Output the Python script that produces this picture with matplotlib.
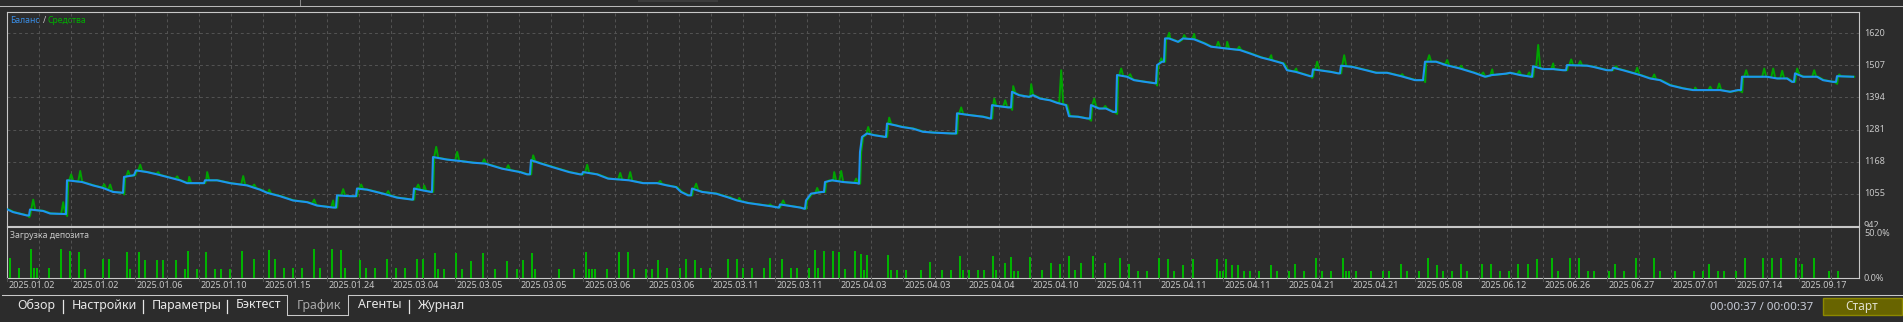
import numpy as np
import matplotlib
matplotlib.use("Agg")
import matplotlib.pyplot as plt
from matplotlib.lines import Line2D
from matplotlib.patches import Rectangle
from matplotlib.transforms import Bbox

plt.rcParams['font.family'] = ['Noto Sans', 'DejaVu Sans']

# ---------------- data ----------------
# balance curve vertices: deal index, balance
bal_x = [0, 6, 20, 22, 23, 36, 43, 58, 59, 60,
         75, 86, 96, 106, 115, 116, 117, 127, 129, 140,
         150, 160, 173, 180, 193, 197, 198, 210, 223, 240,
         253, 260, 273, 286, 300, 310, 326, 329, 330, 343,
         349, 350, 360, 376, 390, 405, 406, 407, 415, 424,
         425, 426, 440, 453, 466, 478, 495, 513, 520, 523,
         524, 534, 545, 562, 573, 575, 576, 590, 601, 622,
         636, 650, 660, 669, 674, 681, 684, 685, 695, 709,
         720, 730, 741, 751, 765, 771, 772, 773, 786, 793,
         797, 798, 799, 804, 815, 817, 818, 825, 836, 850,
         852, 853, 855, 860, 867, 878, 879, 880, 888, 895,
         906, 916, 927, 945, 949, 950, 962, 976, 983, 984,
         985, 990, 1001, 1004, 1005, 1012, 1022, 1026, 1033, 1043,
         1050, 1059, 1062, 1071, 1080, 1083, 1084, 1092, 1099, 1106,
         1109, 1110, 1120, 1127, 1138, 1148, 1149, 1150, 1155, 1157,
         1158, 1162, 1171, 1176, 1187, 1197, 1204, 1218, 1233, 1243,
         1254, 1264, 1276, 1280, 1289, 1303, 1305, 1306, 1324, 1331,
         1333, 1334, 1345, 1359, 1369, 1380, 1394, 1408, 1416, 1418,
         1429, 1439, 1453, 1467, 1478, 1485, 1499, 1503, 1513, 1524,
         1525, 1526, 1536, 1546, 1556, 1559, 1560, 1580, 1586, 1593,
         1600, 1605, 1606, 1616, 1633, 1643, 1653, 1663, 1676, 1686,
         1713, 1723, 1731, 1734, 1735, 1760, 1770, 1780, 1785, 1787,
         1788, 1796, 1810, 1816, 1826, 1829, 1830, 1846]
bal_v = [1000, 990, 978, 978, 999, 994, 985, 983, 983, 1102,
         1096, 1084, 1075, 1061, 1058, 1058, 1114, 1120, 1137, 1131,
         1123, 1114, 1102, 1092, 1092, 1092, 1102, 1102, 1092, 1084,
         1069, 1058, 1046, 1031, 1025, 1013, 1006, 1006, 1049, 1046,
         1046, 1073, 1069, 1055, 1041, 1034, 1034, 1073, 1067, 1061,
         1061, 1184, 1175, 1170, 1164, 1161, 1143, 1131, 1123, 1123,
         1173, 1161, 1149, 1131, 1123, 1123, 1131, 1123, 1108, 1102,
         1092, 1092, 1084, 1078, 1061, 1049, 1049, 1073, 1061, 1055,
         1043, 1031, 1022, 1017, 1010, 1006, 1006, 1017, 1010, 1006,
         1002, 1002, 1031, 1055, 1061, 1061, 1096, 1102, 1096, 1092,
         1090, 1202, 1255, 1267, 1261, 1255, 1255, 1302, 1296, 1290,
         1284, 1273, 1270, 1267, 1267, 1338, 1332, 1326, 1320, 1320,
         1367, 1364, 1359, 1359, 1414, 1402, 1396, 1402, 1390, 1384,
         1375, 1367, 1328, 1326, 1320, 1320, 1367, 1355, 1355, 1343,
         1343, 1473, 1467, 1455, 1449, 1444, 1444, 1508, 1520, 1520,
         1602, 1602, 1590, 1602, 1599, 1585, 1573, 1567, 1561, 1549,
         1535, 1526, 1514, 1490, 1484, 1469, 1469, 1493, 1484, 1479,
         1479, 1506, 1502, 1490, 1481, 1481, 1469, 1455, 1455, 1520,
         1520, 1508, 1496, 1481, 1467, 1473, 1478, 1481, 1473, 1467,
         1467, 1504, 1494, 1494, 1490, 1490, 1508, 1506, 1502, 1496,
         1490, 1490, 1499, 1490, 1473, 1461, 1455, 1437, 1426, 1420,
         1420, 1414, 1420, 1420, 1467, 1467, 1461, 1461, 1449, 1449,
         1479, 1467, 1467, 1455, 1449, 1449, 1469, 1467]

# equity peaks above balance: deal index, equity
eq_x = [25, 55, 63, 72, 96, 102, 120, 132, 150, 169,
        181, 199, 235, 246, 261, 306, 325, 335, 353, 380,
        410, 416, 428, 449, 476, 500, 525, 579, 612, 622,
        652, 688, 722, 731, 762, 775, 809, 821, 826, 833,
        848, 860, 881, 953, 986, 997, 1005, 1023, 1053, 1086,
        1097, 1113, 1122, 1153, 1161, 1176, 1186, 1210, 1219, 1231,
        1263, 1288, 1309, 1336, 1394, 1421, 1439, 1453, 1475, 1484,
        1511, 1521, 1530, 1545, 1563, 1572, 1608, 1629, 1646, 1687,
        1702, 1711, 1738, 1756, 1765, 1774, 1789, 1806, 1831]
eq_v = [1034, 1025, 1123, 1135, 1088, 1087, 1135, 1157, 1131, 1116,
        1114, 1131, 1117, 1087, 1069, 1034, 1031, 1071, 1087, 1064,
        1087, 1084, 1220, 1202, 1176, 1155, 1190, 1157, 1128, 1131,
        1100, 1090, 1043, 1040, 1017, 1031, 1075, 1102, 1131, 1135,
        1108, 1290, 1323, 1359, 1390, 1384, 1434, 1441, 1490, 1390,
        1364, 1496, 1476, 1532, 1622, 1614, 1618, 1590, 1590, 1573,
        1543, 1496, 1520, 1543, 1476, 1543, 1526, 1506, 1482, 1493,
        1487, 1482, 1579, 1514, 1528, 1522, 1504, 1499, 1475, 1429,
        1432, 1443, 1490, 1496, 1496, 1488, 1496, 1490, 1475]
# equity dips below balance (just before jumps)
dip_x = [21, 59, 116, 1004, 1083, 1109, 1149, 1304, 1417, 1734, 1829]
dip_v = [972, 976, 1052, 1350, 1312, 1336, 1436, 1463, 1448, 1412, 1442]

# deposit load bars: deal index, percent
load_x = [3, 12, 24, 27, 30, 42, 54, 63, 72, 78,
          96, 102, 120, 123, 132, 138, 150, 156, 169, 178,
          181, 190, 199, 208, 214, 223, 235, 247, 262, 268,
          277, 286, 295, 307, 313, 325, 334, 338, 353, 359,
          368, 380, 389, 398, 410, 416, 428, 431, 437, 449,
          455, 464,
          476, 488, 500, 510, 516, 525, 528, 552, 567, 579,
          582, 585, 588, 600, 612, 621, 627, 639, 645, 651,
          660, 673, 679, 688, 694, 703, 721, 730, 736, 745,
          757, 763, 775, 784, 790, 802, 808, 811, 817, 826,
          832, 838, 848, 854, 857, 860, 881, 884, 890, 899,
          914, 923, 935,
          944, 953, 956, 962, 971, 977, 986, 989, 998, 1004,
          1007, 1011, 1023, 1035, 1044, 1053, 1062, 1068, 1074, 1086,
          1098, 1113, 1122, 1131, 1140, 1152, 1161, 1167, 1176, 1186,
          1210, 1213, 1216, 1219, 1225, 1231, 1237, 1243, 1252, 1264,
          1270, 1282, 1288, 1297, 1309, 1315, 1324, 1336, 1339, 1342,
          1349, 1364, 1376, 1382, 1394, 1400,
          1412, 1421, 1430, 1436, 1445, 1454, 1460, 1475, 1484, 1493,
          1502, 1511, 1521, 1530, 1545, 1551, 1563, 1572, 1581, 1587,
          1602, 1608, 1617, 1629, 1647, 1653, 1668, 1687, 1696, 1702,
          1711, 1717, 1729, 1738, 1756, 1765, 1774, 1789, 1795, 1807,
          1822, 1831]
load_v = [22.9, 11.5, 32.6, 11.5, 11.5, 11.5, 32.6, 30.4, 29.3, 10.4,
          21.5, 21.5, 29.3, 10.4, 29.3, 20.4, 20.4, 20.4, 20.4, 10.4,
          30.4, 10.4, 29.3, 10.4, 10.4, 10.4, 30.4, 21.5, 31.5, 21.5,
          11.5, 11.5, 11.5, 32.6, 11.5, 32.6, 31.5, 11.5, 20.4, 11.5,
          11.5, 21.5, 11.5, 11.5, 21.5, 21.5, 28.1, 10.4, 10.4, 28.1,
          10.4, 19.3,
          28.1, 10.4, 19.3, 10.4, 20.4, 28.1, 10.4, 10.4, 10.4, 29.3,
          10.4, 10.4, 10.4, 10.4, 29.3, 29.3, 10.4, 10.4, 10.4, 20.4,
          11.5, 11.5, 21.5, 20.4, 11.5, 11.5, 21.5, 21.5, 11.5, 11.5,
          11.5, 22.6, 21.5, 11.5, 11.5, 11.5, 31.5, 11.5, 30.4, 30.4,
          29.3, 10.4, 30.4, 27.0, 9.3, 25.9, 25.9, 9.3, 9.3, 9.3,
          9.3, 18.1, 9.3,
          9.3, 24.8, 9.3, 9.3, 9.3, 9.3, 24.8, 9.3, 17.0, 23.7,
          8.1, 8.1, 23.7, 9.3, 17.0, 15.9, 24.8, 9.3, 17.0, 24.8,
          17.0, 22.6, 15.9, 8.1, 8.1, 22.6, 21.5, 8.1, 14.8, 21.5,
          21.5, 8.1, 8.1, 21.5, 14.8, 14.8, 8.1, 8.1, 8.1, 14.8,
          8.1, 8.1, 15.9, 8.1, 22.6, 8.1, 8.1, 22.6, 8.1, 8.1,
          8.1, 8.1, 8.1, 8.1, 15.9, 8.1,
          8.1, 22.6, 14.8, 8.1, 8.1, 15.9, 8.1, 15.9, 15.9, 8.1,
          8.1, 15.9, 15.9, 21.5, 22.6, 8.1, 22.6, 22.6, 8.1, 8.1,
          8.1, 15.9, 8.1, 22.6, 22.6, 8.1, 8.1, 8.1, 8.1, 15.9,
          8.1, 8.1, 8.1, 22.6, 22.6, 22.6, 22.6, 22.6, 15.9, 22.6,
          8.1, 8.1]

date_labels = ["2025.01.02", "2025.01.02", "2025.01.06", "2025.01.10", "2025.01.15",
               "2025.01.24", "2025.03.04", "2025.03.05", "2025.03.05", "2025.03.06",
               "2025.03.06", "2025.03.11", "2025.03.11", "2025.04.03", "2025.04.03",
               "2025.04.04", "2025.04.10", "2025.04.11", "2025.04.11", "2025.04.11",
               "2025.04.21", "2025.04.21", "2025.05.08", "2025.06.12", "2025.06.26",
               "2025.06.27", "2025.07.01", "2025.07.14", "2025.09.17"]
y_ticks = [942, 1055, 1168, 1281, 1394, 1507, 1620]
load_ticks = [0, 50]
tabs = ["Обзор", "Настройки", "Параметры", "Бэктест", "График", "Агенты", "Журнал"]

assert len(bal_x) == len(bal_v)
assert len(eq_x) == len(eq_v)
assert len(dip_x) == len(dip_v)
assert len(load_x) == len(load_v)

# ---------------- figure ----------------
W, H = 1903, 322
BG = '#2c2c2c'
FG = '#c8c8c8'
GRID = '#525252'
fig = plt.figure(figsize=(W / 100, H / 100), dpi=100, facecolor=BG)


def fx(px):
    return px / W


def fy(py):
    return 1 - py / H


def hline(x0, x1, y, color=FG, lw=0.75):
    fig.add_artist(Line2D([fx(x0), fx(x1)], [fy(y), fy(y)], color=color, lw=lw))


def vline(x, y0, y1, color=FG, lw=0.75):
    fig.add_artist(Line2D([fx(x), fx(x)], [fy(y0), fy(y1)], color=color, lw=lw))


L, R = 7, 1859
T1, B1 = 11.7, 225.7
T2, B2 = 227.3, 278.3
XMAX = R - L

ax = fig.add_axes([fx(L), fy(B1), fx(R - L), (B1 - T1) / H])
ax2 = fig.add_axes([fx(L), fy(B2), fx(R - L), (B2 - T2) / H])

for a in (ax, ax2):
    a.set_facecolor(BG)
    a.set_xlim(0, XMAX)
    for s in a.spines.values():
        s.set_color(FG)
        s.set_linewidth(0.8)
    a.set_xticks([])
    a.set_yticks([])
    for k in range(1, 58):
        a.axvline(32 * k, color=GRID, lw=0.75, ls=(0, (2.8, 2.8)), zorder=0)

ymin, ymax = 942, 1620 + (33.3 - T1) * 113 / 32
ax.set_ylim(ymin, ymax)
for v in y_ticks[1:]:
    ax.axhline(v, color=GRID, lw=0.75, ls=(0, (2.8, 2.8)), zorder=0)

# equity: balance path with its read excursions
bx = np.array(bal_x, float)
bv = np.array(bal_v, float)
pts = {float(xx): float(vv) for xx, vv in zip(bx, bv)}
for xx in eq_x:
    for d in (-2.0, 2.0):
        xs = float(xx + d)
        if xs not in pts:
            pts[xs] = float(np.interp(xs, bx, bv))
for xx, vv in zip(eq_x + dip_x, eq_v + dip_v):
    pts[float(xx)] = float(vv)
ex = np.array(sorted(pts))
ev = np.array([pts[k] for k in ex])
ax.plot(ex + 1.2, ev, color='#00a400', lw=1.4, zorder=2)
ax.plot(bx, bv, color='#1e94f0', lw=1.5, zorder=3)

tr = ax.get_xaxis_transform()
ax.text(3, 0.961, "Баланс", color='#3a8ee6', fontsize=6.2, transform=tr, va='center', ha='left')
ax.text(35.5, 0.961, "/", color=FG, fontsize=6.2, transform=tr, va='center', ha='left')
ax.text(41, 0.961, "Средства", color='#00b000', fontsize=6.2, transform=tr, va='center', ha='left')

# deposit load panel
ax2.set_ylim(0, 50 * (B2 - T2) / (278.3 - 233.3))
ax2.bar(load_x, load_v, width=2.0, color='#00b400', align='center', zorder=2)
ax2.text(3, 0.83, "Загрузка депозита", color=FG, fontsize=6.3, transform=ax2.get_xaxis_transform(),
         va='center', ha='left')

# right axis labels
for v in y_ticks:
    py = 33.3 + (1620 - v) * 32 / 113
    t = fig.text(fx(1864), fy(py), str(v), color=FG, fontsize=6.5, ha='left', va='center')
    t.set_clip_box(Bbox([[1860, H - 226.5], [W, H]]))
    t.set_clip_on(True)
for v in load_ticks:
    py = 278.3 - v * 45 / 50
    fig.text(fx(1864), fy(py), f"{v:.1f}%", color=FG, fontsize=6.5, ha='left', va='center')

# date labels and ticks
for k, lab in enumerate(date_labels):
    fig.text(fx(L + 64 * k + 1.5), fy(285.7), lab, color=FG, fontsize=6.5, ha='left', va='center')
for k in range(0, 58):
    vline(L + 32 * k, B2, B2 + 2.5, color=GRID)

# top line and small marks
hline(0, W, 6, color='#b8b8b8')
vline(300, 0, 5, color='#888888')
fig.add_artist(Rectangle((fx(638), fy(1.5)), fx(80), 1.5 / H, color='#3c3c3c', lw=0))

# tab bar
hline(2, 287, 295, color='#c8c8c8')
hline(348, W, 295, color='#c8c8c8')
vline(287, 295, 314.5, color='#c8c8c8')
vline(348, 295, 314.5, color='#c8c8c8')
hline(287, 348, 314.5, color='#c8c8c8')
tab_x = [17, 72, 152, 236, 297, 358, 418]
for name, xx in zip(tabs, tab_x):
    col = '#a8a8a8' if name == "График" else '#e6e6e6'
    fig.text(fx(xx), fy(305), name, color=col, fontsize=9, ha='left', va='center')
for xx in [63, 143, 227, 409]:
    vline(xx, 299.5, 313, color='#e6e6e6', lw=0.9)

fig.text(fx(1813), fy(307), "00:00:37 / 00:00:37", color='#c8ccd8', fontsize=8.3, ha='right',
         va='center')
fig.add_artist(Rectangle((fx(1822.5), fy(315)), fx(79.5), 17 / H, facecolor='#686400',
                         edgecolor='#8c8800', lw=1.0))
fig.text(fx(1862), fy(306.5), "Старт", color='#e0e0d0', fontsize=8.5, ha='center', va='center')

fig.savefig("out.png", dpi=100, facecolor=BG)
